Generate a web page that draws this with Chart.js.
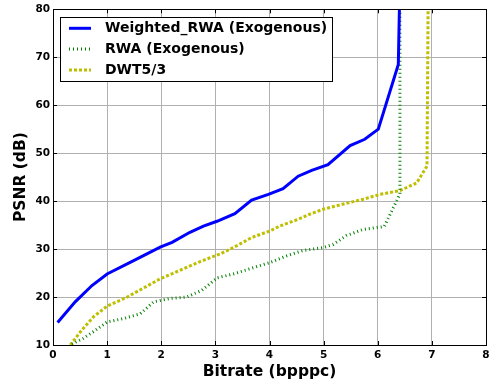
<!DOCTYPE html>
<html><head><meta charset="utf-8">
<script src="https://cdn.jsdelivr.net/npm/chart.js@4"></script>
<style>html,body{margin:0;padding:0;background:#fff}#wrap{width:495px;height:382px;position:relative}canvas{display:block}</style>
</head><body><div id="wrap"><canvas id="c" width="495" height="382" style="width:495px;height:382px"></canvas></div>
<script>
const xTicks = [0,1,2,3,4,5,6,7,8];
const yTicks = [10,20,30,40,50,60,70,80];
const seriesNames = ['Weighted_RWA (Exogenous)','RWA (Exogenous)','DWT5/3'];
const xTitle = 'Bitrate (bpppc)';
const yTitle = 'PSNR (dB)';

const weightedX = [0.085,0.41,0.72,1.0,1.49,1.98,2.2,2.53,2.78,3.03,3.36,3.67,3.98,4.25,4.53,4.78,5.08,5.49,5.76,6.01,6.38,6.4];
const weightedY = [14.7,19.0,22.4,24.8,27.6,30.4,31.4,33.5,34.8,35.8,37.4,40.2,41.4,42.6,45.2,46.4,47.6,51.6,52.9,55.0,68.5,80];

const rwaX = [0.35,0.56,0.75,1.0,1.3,1.61,1.86,2.16,2.47,2.75,3.03,3.33,3.64,4.01,4.32,4.62,4.99,5.18,5.42,5.73,6.12,6.41,6.41];
const rwaY = [10.2,11.4,12.8,14.8,15.5,16.5,19.0,19.7,20.0,21.4,24.0,24.8,25.9,27.2,28.6,29.7,30.3,31.0,32.8,34.1,34.7,41.5,80];

const dwtX = [0.32,0.53,0.75,1.0,1.37,1.98,2.41,2.72,3.09,3.33,3.67,4.01,4.19,4.53,4.75,4.99,5.3,5.73,6.04,6.41,6.72,6.91,6.93];
const dwtY = [10.0,13.1,15.9,18.1,20.0,23.8,25.9,27.4,29.0,30.3,32.4,33.8,34.8,36.2,37.3,38.3,39.2,40.4,41.4,42.2,43.8,47.3,80];

const pts = (xs, ys) => xs.map((x, i) => ({x, y: ys[i]}));
const FONT = "'DejaVu Sans', sans-serif";

const frame = {
  id: 'frame',
  afterDatasetsDraw(chart) {
    const {ctx, chartArea: a, scales} = chart;
    ctx.save();
    ctx.strokeStyle = '#000';
    ctx.lineWidth = 1;
    ctx.beginPath();
    const tl = 4;
    xTicks.forEach(v => {
      const px = Math.round(scales.x.getPixelForValue(v)) + 0.5;
      ctx.moveTo(px, a.bottom); ctx.lineTo(px, a.bottom - tl);
      ctx.moveTo(px, a.top); ctx.lineTo(px, a.top + tl);
    });
    yTicks.forEach(v => {
      const py = Math.round(scales.y.getPixelForValue(v)) + 0.5;
      ctx.moveTo(a.left, py); ctx.lineTo(a.left + tl, py);
      ctx.moveTo(a.right, py); ctx.lineTo(a.right - tl, py);
    });
    ctx.stroke();
    ctx.strokeRect(Math.round(a.left) + 0.5, Math.round(a.top) + 0.5, Math.round(a.right - a.left), Math.round(a.bottom - a.top));
    // legend
    const bx = a.left + 7, by = a.top + 8, bw = 272, bh = 64;
    ctx.fillStyle = '#fff';
    ctx.fillRect(bx, by, bw, bh);
    ctx.strokeStyle = '#000';
    ctx.strokeRect(Math.round(bx) + 0.5, Math.round(by) + 0.5, bw, bh);
    ctx.font = 'bold 14px ' + FONT;
    ctx.textBaseline = 'middle';
    chart.data.datasets.forEach((ds, i) => {
      const ry = by + 11 + i * 20.8;
      ctx.save();
      ctx.strokeStyle = ds.borderColor;
      ctx.lineWidth = ds.borderWidth;
      ctx.setLineDash(ds.borderDash || []);
      ctx.beginPath();
      ctx.moveTo(bx + 9, ry); ctx.lineTo(bx + 31, ry);
      ctx.stroke();
      ctx.restore();
      ctx.fillStyle = '#000';
      ctx.fillText(ds.label, bx + 45, ry + 0.5);
    });
    ctx.restore();
  }
};

new Chart(document.getElementById('c'), {
  type: 'line',
  data: {
    datasets: [
      {label: seriesNames[0], data: pts(weightedX, weightedY), borderColor: '#0000ff', borderWidth: 3, pointRadius: 0, fill: false, tension: 0, clip: 0},
      {label: seriesNames[1], data: pts(rwaX, rwaY), borderColor: '#008000', borderWidth: 3, borderDash: [1, 3], pointRadius: 0, fill: false, tension: 0, clip: 0},
      {label: seriesNames[2], data: pts(dwtX, dwtY), borderColor: '#bfbf00', borderWidth: 3, borderDash: [3, 2], pointRadius: 0, fill: false, tension: 0, clip: 0}
    ]
  },
  options: {
    responsive: false,
    maintainAspectRatio: false,
    animation: false,
    devicePixelRatio: 1,
    layout: {padding: {left: 0, right: 9, top: 7, bottom: 0}},
    plugins: {legend: {display: false}, tooltip: {enabled: false}},
    scales: {
      x: {
        type: 'linear', min: 0, max: 8,
        afterBuildTicks: s => { s.ticks = xTicks.map(v => ({value: v})); },
        afterFit: s => { s.height = 37; },
        grid: {color: '#b0b0b0', lineWidth: 1, drawTicks: false},
        border: {display: false},
        ticks: {color: '#000', font: {family: FONT, size: 10.5, weight: 'bold'}, padding: 4, maxRotation: 0},
        title: {display: true, text: xTitle, color: '#000', font: {family: FONT, size: 15.5, weight: 'bold'}, padding: {top: 0, bottom: 1}}
      },
      y: {
        type: 'linear', min: 10, max: 80,
        afterBuildTicks: s => { s.ticks = yTicks.map(v => ({value: v})); },
        afterFit: s => { s.width = 53; },
        grid: {color: '#b0b0b0', lineWidth: 1, drawTicks: false},
        border: {display: false},
        ticks: {color: '#000', font: {family: FONT, size: 10.5, weight: 'bold'}, padding: 3},
        title: {display: true, text: yTitle, color: '#000', font: {family: FONT, size: 15.5, weight: 'bold'}, padding: {top: 12, bottom: 0}}
      }
    }
  },
  plugins: [frame]
});
</script></body></html>
